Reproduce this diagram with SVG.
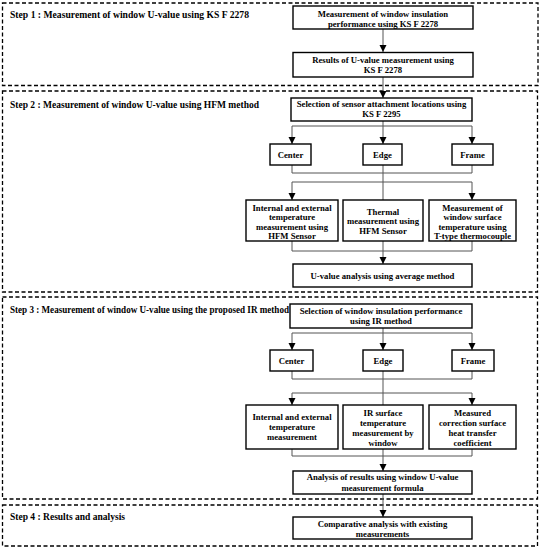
<svg xmlns="http://www.w3.org/2000/svg" width="542" height="550" viewBox="0 0 542 550">
<defs>
<marker id="ah" markerUnits="userSpaceOnUse" markerWidth="8" markerHeight="8" refX="7" refY="3.5" orient="auto">
<path d="M0,0 L7,3.5 L0,7 Z" fill="#000"/>
</marker>
<style>
.step{fill:none;stroke:#000;stroke-width:1.3;stroke-dasharray:4,2.5}
.box{fill:#fff;stroke:#000;stroke-width:1.4}
.t{font-family:"Liberation Serif","Times New Roman",serif;font-weight:bold;font-size:8.7px;text-anchor:middle;fill:#000}
.lbl{font-family:"Liberation Serif","Times New Roman",serif;font-weight:bold;font-size:9.5px;fill:#000}
.c{fill:none;stroke:#555;stroke-width:1}
.a{fill:none;stroke:#555;stroke-width:1;marker-end:url(#ah)}
</style>
</defs>
<rect x="0" y="0" width="542" height="550" fill="#fff"/>

<g id="step1"><rect class="step" x="2.5" y="3" width="535.5" height="82.5"/><text class="lbl" x="10" y="17.5" textLength="239" lengthAdjust="spacingAndGlyphs">Step 1 : Measurement of window U-value using KS F 2278</text></g>
<g id="step2"><rect class="step" x="2.5" y="91" width="535" height="201"/><text class="lbl" x="10" y="107.5" textLength="249" lengthAdjust="spacingAndGlyphs">Step 2 : Measurement of window U-value using HFM method</text></g>
<g id="step3"><rect class="step" x="2.5" y="297" width="535" height="202"/><text class="lbl" x="10" y="312.5" textLength="279" lengthAdjust="spacingAndGlyphs">Step 3 : Measurement of window U-value using the proposed IR method</text></g>
<g id="step4"><rect class="step" x="2.5" y="505" width="535" height="41"/><text class="lbl" x="10" y="519.5" textLength="115" lengthAdjust="spacingAndGlyphs">Step 4 : Results and analysis</text></g>

<g id="connectors">
<line class="a" x1="383" y1="29" x2="383" y2="52"/>
<line class="a" x1="383" y1="77" x2="383" y2="98"/>
<line class="a" x1="383" y1="121" x2="383" y2="144"/>
<path class="c" d="M292,126 H472"/>
<line class="a" x1="292" y1="126" x2="292" y2="144"/>
<line class="a" x1="472" y1="126" x2="472" y2="144"/>
<path class="c" d="M292,165 V173 H472 V165"/>
<line class="c" x1="383" y1="165" x2="383" y2="200"/>
<path class="c" d="M292,182 H472"/>
<line class="a" x1="292" y1="182" x2="292" y2="200"/>
<line class="a" x1="472" y1="182" x2="472" y2="200"/>
<path class="c" d="M292,241 V251 H472 V241"/>
<line class="a" x1="383" y1="241" x2="383" y2="264"/>
<line class="a" x1="383" y1="328" x2="383" y2="350"/>
<path class="c" d="M292,333 H472"/>
<line class="a" x1="292" y1="333" x2="292" y2="350"/>
<line class="a" x1="472" y1="333" x2="472" y2="350"/>
<path class="c" d="M292,371 V379 H472 V371"/>
<line class="c" x1="383" y1="371" x2="383" y2="405"/>
<path class="c" d="M292,393 H472"/>
<line class="a" x1="292" y1="393" x2="292" y2="405"/>
<line class="a" x1="472" y1="393" x2="472" y2="405"/>
<path class="c" d="M292,449 V456 H472 V449"/>
<line class="a" x1="383" y1="449" x2="383" y2="471"/>
<line class="a" x1="383" y1="494" x2="383" y2="517"/>
</g>

<g id="n1"><rect class="box" x="293" y="6" width="180" height="23"/><text class="t" x="383" y="17">Measurement of window insulation</text><text class="t" x="383" y="27">performance using KS F 2278</text></g>
<g id="n2"><rect class="box" x="293" y="52.5" width="180" height="24.5"/><text class="t" x="383" y="63">Results of U-value measurement using</text><text class="t" x="383" y="72.5">KS F 2278</text></g>

<g id="n3"><rect class="box" x="291" y="98" width="181" height="23"/><text class="t" x="381.5" y="107">Selection of sensor attachment locations using</text><text class="t" x="381.5" y="117">KS F 2295</text></g>
<g id="n4"><rect class="box" x="270" y="144" width="41" height="21"/><text class="t" x="290.5" y="157.5">Center</text></g>
<g id="n5"><rect class="box" x="363" y="144" width="39" height="21"/><text class="t" x="382.5" y="157.5">Edge</text></g>
<g id="n6"><rect class="box" x="452" y="144" width="41" height="21"/><text class="t" x="472.5" y="157.5">Frame</text></g>
<g id="n7"><rect class="box" x="246" y="200" width="92" height="41"/><text class="t" x="292" y="211">Internal and external</text><text class="t" x="292" y="220.3">temperature</text><text class="t" x="292" y="229.6">measurement using</text><text class="t" x="292" y="238.5">HFM Sensor</text></g>
<g id="n8"><rect class="box" x="343" y="200" width="80" height="41"/><text class="t" x="383" y="215">Thermal</text><text class="t" x="383" y="224.3">measurement using</text><text class="t" x="383" y="233.6">HFM Sensor</text></g>
<g id="n9"><rect class="box" x="429" y="200" width="87" height="41"/><text class="t" x="472.5" y="211">Measurement of</text><text class="t" x="472.5" y="220.3">window surface</text><text class="t" x="472.5" y="229.6">temperature using</text><text class="t" x="472.5" y="238.5">T-type thermocouple</text></g>
<g id="n10"><rect class="box" x="293" y="264" width="179" height="23"/><text class="t" x="382.5" y="279">U-value analysis using average method</text></g>

<g id="n11"><rect class="box" x="290" y="304" width="182" height="24"/><text class="t" x="381" y="314">Selection of window insulation performance</text><text class="t" x="381" y="324">using IR method</text></g>
<g id="n12"><rect class="box" x="270" y="350" width="43" height="21"/><text class="t" x="291.5" y="363.5">Center</text></g>
<g id="n13"><rect class="box" x="363" y="350" width="40" height="21"/><text class="t" x="383" y="363.5">Edge</text></g>
<g id="n14"><rect class="box" x="452" y="350" width="42" height="21"/><text class="t" x="473" y="363.5">Frame</text></g>
<g id="n15"><rect class="box" x="246" y="405" width="92" height="44"/><text class="t" x="292" y="420">Internal and external</text><text class="t" x="292" y="430">temperature</text><text class="t" x="292" y="440">measurement</text></g>
<g id="n16"><rect class="box" x="343" y="405" width="80" height="44"/><text class="t" x="383" y="416">IR surface</text><text class="t" x="383" y="426">temperature</text><text class="t" x="383" y="436">measurement by</text><text class="t" x="383" y="446">window</text></g>
<g id="n17"><rect class="box" x="429" y="405" width="87" height="44"/><text class="t" x="472.5" y="416">Measured</text><text class="t" x="472.5" y="426">correction surface</text><text class="t" x="472.5" y="436">heat transfer</text><text class="t" x="472.5" y="446">coefficient</text></g>
<g id="n18"><rect class="box" x="293" y="471" width="179" height="23"/><text class="t" x="382.5" y="480">Analysis of results using window U-value</text><text class="t" x="382.5" y="491">measurement formula</text></g>

<g id="n19"><rect class="box" x="293" y="517" width="179" height="22"/><text class="t" x="382.5" y="527">Comparative analysis with existing</text><text class="t" x="382.5" y="537">measurements</text></g>
</svg>
